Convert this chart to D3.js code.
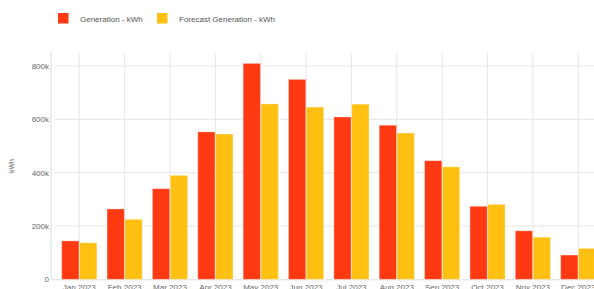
<html>
<head>
	<script src="https://d3js.org/d3.v7.min.js"></script>
	<style>
		body { margin: 0; background: #fff; overflow: hidden; }
		text { font-family: "Liberation Sans", Arial, sans-serif; }
	</style>
</head>
<body>
	<script>
		var months = ["Jan 2023", "Feb 2023", "Mar 2023", "Apr 2023", "May 2023", "Jun 2023",
		              "Jul 2023", "Aug 2023", "Sep 2023", "Oct 2023", "Nov 2023", "Dec 2023"];
		var generation = [144000, 264000, 340000, 553000, 810000, 750000, 609000, 578000, 445000, 274000, 182000, 91000];
		var forecast = [137000, 225000, 390000, 545000, 658000, 646000, 657000, 549000, 422000, 281000, 158000, 116000];
		var seriesNames = ["Generation - kWh", "Forecast Generation - kWh"];
		var colors = ["#ff3a12", "#ffc012"];
		var yTicks = [0, 200000, 400000, 600000, 800000];

		var width = 594, height = 289;
		var axisX = 51, plotTop = 52.7, plotBottom = 279.3;

		var svg = d3.select("body").append("svg")
			.attr("width", width)
			.attr("height", height);

		var xScale = d3.scaleBand().domain(months).range([56.6, 56.6 + 12 * 45.36]).padding(0);
		var sub = d3.scaleBand().domain([0, 1]).range([-17.6, 17.6]).paddingInner(0.03);
		var yScale = d3.scaleLinear().domain([0, 850000]).range([plotBottom, plotTop]);

		// grid
		svg.append("g").selectAll("line").data(yTicks.slice(1))
			.enter().append("line")
			.attr("x1", axisX + 4).attr("x2", width)
			.attr("y1", function(d) { return yScale(d); })
			.attr("y2", function(d) { return yScale(d); })
			.attr("stroke", "#e6e6e6").attr("stroke-width", 1);

		svg.append("g").selectAll("line").data(months)
			.enter().append("line")
			.attr("x1", function(d) { return xScale(d) + xScale.bandwidth() / 2; })
			.attr("x2", function(d) { return xScale(d) + xScale.bandwidth() / 2; })
			.attr("y1", plotTop).attr("y2", plotBottom)
			.attr("stroke", "#e6e6e6").attr("stroke-width", 1);

		// axes lines
		svg.append("line").attr("x1", axisX).attr("x2", axisX)
			.attr("y1", plotTop - 1).attr("y2", plotBottom)
			.attr("stroke", "#dcdcdc");
		svg.append("line").attr("x1", axisX).attr("x2", width)
			.attr("y1", plotBottom + 0.5).attr("y2", plotBottom + 0.5)
			.attr("stroke", "#dcdcdc");

		// bars
		var data = months.map(function(m, i) { return { month: m, values: [generation[i], forecast[i]] }; });
		var groups = svg.append("g").selectAll("g").data(data)
			.enter().append("g")
			.attr("transform", function(d) { return "translate(" + (xScale(d.month) + xScale.bandwidth() / 2) + ",0)"; });

		groups.selectAll("rect").data(function(d) { return d.values; })
			.enter().append("rect")
			.attr("x", function(d, i) { return sub(i); })
			.attr("width", sub.bandwidth())
			.attr("y", function(d) { return yScale(d); })
			.attr("height", function(d) { return plotBottom - yScale(d); })
			.attr("fill", function(d, i) { return colors[i]; })
			.attr("stroke", "rgba(255,255,255,0.35)")
			.attr("stroke-width", 1);

		// y tick labels
		svg.append("g").selectAll("text").data(yTicks)
			.enter().append("text")
			.attr("x", axisX - 2)
			.attr("y", function(d) { return yScale(d) + 3; })
			.attr("text-anchor", "end")
			.attr("font-size", 8)
			.attr("fill", "#666")
			.text(function(d) { return d === 0 ? "0" : (d / 1000) + "k"; });

		// x labels
		svg.append("g").selectAll("text").data(months)
			.enter().append("text")
			.attr("x", function(d) { return xScale(d) + xScale.bandwidth() / 2; })
			.attr("y", 290)
			.attr("text-anchor", "middle")
			.attr("font-size", 8)
			.attr("fill", "#666")
			.text(function(d) { return d; });

		// y title
		svg.append("text")
			.attr("transform", "translate(14," + ((plotTop + plotBottom) / 2) + ") rotate(-90)")
			.attr("text-anchor", "middle")
			.attr("font-size", 7)
			.attr("fill", "#666")
			.text("kWh");

		// legend
		var legendX = [58, 157];
		var legend = svg.append("g").selectAll("g").data(seriesNames)
			.enter().append("g")
			.attr("transform", function(d, i) { return "translate(" + legendX[i] + ",13)"; });
		legend.append("rect")
			.attr("width", 10.5).attr("height", 10.5)
			.attr("fill", function(d, i) { return colors[i]; });
		legend.append("text")
			.attr("x", 22).attr("y", 8.5)
			.attr("font-size", 8)
			.attr("fill", "#555")
			.text(function(d) { return d; });
	</script>
</body>
</html>
